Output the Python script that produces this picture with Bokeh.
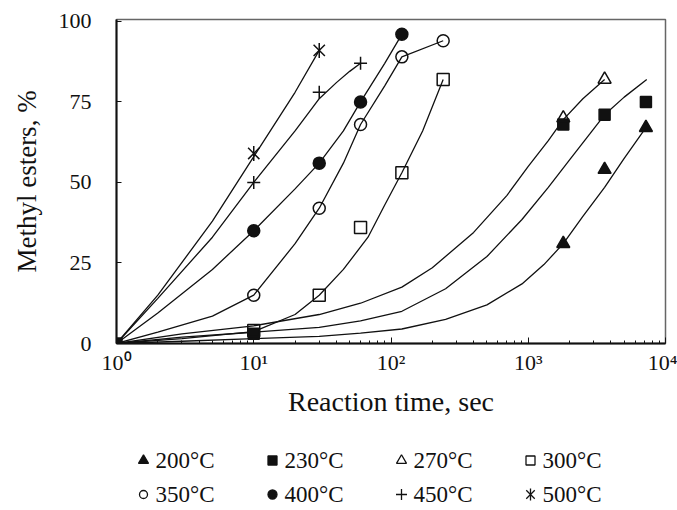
import math
from bokeh.plotting import figure
from bokeh.models import Range1d, CustomJSTickFormatter, FixedTicker
from bokeh.layouts import column
from bokeh.embed import file_html
from bokeh.resources import INLINE

# ---------------- data ----------------
labels = ["200°C", "230°C", "270°C", "300°C", "350°C", "400°C", "450°C", "500°C"]

# measured points: reaction time (s), methyl esters (%)
t200 = [1800, 3600, 7200]
y200 = [31, 54, 67]
t230 = [1, 10, 1800, 3600, 7200]
y230 = [0, 3, 68, 71, 75]
t270 = [1800, 3600]
y270 = [70, 82]
t300 = [10, 30, 60, 120, 240]
y300 = [4, 15, 36, 53, 82]
t350 = [10, 30, 60, 120, 240]
y350 = [15, 42, 68, 89, 94]
t400 = [10, 30, 60, 120]
y400 = [35, 56, 75, 96]
t450 = [10, 30, 60]
y450 = [50, 78, 87]
t500 = [10, 30]
y500 = [59, 91]

# fitted curves
c200_t = [1, 3, 10, 30, 60, 120, 250, 500, 900, 1300, 1800, 2500, 3600, 5000, 7200]
c200_y = [0, 0.7, 1.5, 2.2, 3.2, 4.5, 7.5, 12, 18.5, 24.5, 31, 39.5, 48.5, 57.5, 67]
c230_t = [1, 3, 10, 30, 60, 120, 250, 500, 900, 1400, 2000, 2800, 3600, 5000, 7300]
c230_y = [0, 2, 3.5, 5, 7, 10, 17, 27, 38.5, 48.5, 57, 65, 71, 76.5, 82]
c270_t = [1, 3, 10, 30, 60, 120, 200, 400, 700, 1000, 1400, 1800, 2500, 3600]
c270_y = [0, 3, 5.5, 9, 12.5, 17.5, 23.5, 34.5, 46, 55, 63, 69.5, 76, 82]
c300_t = [1, 3, 10, 20, 30, 45, 68, 90, 120, 170, 240]
c300_y = [0, 1.5, 3.7, 9, 15, 23, 33, 43, 53, 66, 82]
c350_t = [1, 2, 5, 10, 20, 30, 45, 60, 90, 120, 240]
c350_y = [0, 3.5, 8.5, 15, 31, 42, 56, 68, 80, 89, 94]
c400_t = [1, 2, 5, 10, 20, 30, 45, 60, 90, 120]
c400_y = [0, 9.5, 23, 35, 48, 56, 66, 75, 87, 96]
c450_t = [1, 2, 5, 10, 20, 30, 40, 50, 60]
c450_y = [0, 14, 33, 50, 66, 76, 81, 84.5, 87]
c500_t = [1, 2, 5, 10, 20, 30]
c500_y = [0, 15, 38, 58, 78, 91]

x_ticks = [1, 10, 100, 1000, 10000]
y_ticks = [0, 25, 50, 75, 100]

# ---------------- styling ----------------
FONT = "Liberation Serif"
BLACK = "#111111"

# marker specs: list of (marker, size, filled, angle)
marker_specs = [
    [("triangle", 13, True, 0)],
    [("square", 11, True, 0)],
    [("triangle", 13, False, 0)],
    [("square", 12, False, 0)],
    [("circle", 12, False, 0)],
    [("circle", 12, True, 0)],
    [("cross", 13, False, 0)],
    [("x", 16, False, 0), ("dash", 15, False, math.pi / 2)],
]

points = [(t200, y200), (t230, y230), (t270, y270), (t300, y300),
          (t350, y350), (t400, y400), (t450, y450), (t500, y500)]
curves = [(c200_t, c200_y), (c230_t, c230_y), (c270_t, c270_y), (c300_t, c300_y),
          (c350_t, c350_y), (c400_t, c400_y), (c450_t, c450_y), (c500_t, c500_y)]

LEFT, RIGHT = 116, 12

p = figure(width=677, height=430, x_axis_type="log",
           x_range=Range1d(1, 10000), y_range=Range1d(0, 100.6),
           output_backend="svg", toolbar_location=None,
           min_border_left=LEFT, min_border_right=RIGHT,
           min_border_top=19, min_border_bottom=87)
p.background_fill_color = "white"
p.border_fill_color = "white"
p.outline_line_color = "#666666"
p.outline_line_width = 1.5
p.xgrid.visible = False
p.ygrid.visible = False

for (ct, cy) in curves:
    p.line(ct, cy, line_color=BLACK, line_width=1.3)


def draw_markers(fig, xs, ys, specs, lw=1.5):
    for (m, s, filled, ang) in specs:
        fig.scatter(xs, ys, marker=m, size=s, angle=ang,
                    line_color=BLACK, line_width=lw,
                    fill_color=BLACK if filled else None,
                    fill_alpha=1.0 if filled else 0.0)


for (pt, py), specs in zip(points, marker_specs):
    draw_markers(p, pt, py, specs)

# axes
for ax in (p.xaxis[0], p.yaxis[0]):
    ax.axis_line_color = BLACK
    ax.axis_line_width = 2
    ax.major_tick_line_color = BLACK
    ax.major_tick_out = 0
    ax.major_label_text_font = FONT
    ax.major_label_text_color = BLACK
    ax.major_label_text_font_size = "22px"
    ax.axis_label_text_font = FONT
    ax.axis_label_text_font_style = "normal"
    ax.axis_label_text_color = BLACK

minor = [m * d for d in x_ticks[:-1] for m in range(2, 10)]
p.xaxis.ticker = FixedTicker(ticks=x_ticks, minor_ticks=minor)
p.xaxis.formatter = CustomJSTickFormatter(code="""
const s = ['\u2070','\u00b9','\u00b2','\u00b3','\u2074','\u2075'];
return '10' + s[Math.round(Math.log10(tick))];
""")
p.xaxis.major_tick_in = 6
p.xaxis.minor_tick_in = 3
p.xaxis.minor_tick_out = 0
p.xaxis.minor_tick_line_color = BLACK
p.xaxis.major_label_standoff = 6
p.xaxis.axis_label = "Reaction time, sec"
p.xaxis.axis_label_standoff = 8
p.xaxis.axis_label_text_font_size = "28px"

p.yaxis.ticker = FixedTicker(ticks=y_ticks)
p.yaxis.major_tick_in = 5
p.yaxis.minor_tick_in = 0
p.yaxis.minor_tick_out = 0
p.yaxis.major_label_standoff = 25
p.yaxis.axis_label = "Methyl esters, %"
p.yaxis.axis_label_standoff = 14
p.yaxis.axis_label_text_font_size = "27px"

# ---------------- legend (separate panel below, pixel coordinates) ----------------
leg = figure(width=677, height=80, x_range=Range1d(LEFT, 677 - RIGHT), y_range=Range1d(80, 0),
             output_backend="svg", toolbar_location=None,
             min_border_left=LEFT, min_border_right=RIGHT,
             min_border_top=0, min_border_bottom=0, outline_line_color=None)
leg.axis.visible = False
leg.xgrid.visible = False
leg.ygrid.visible = False
leg.background_fill_color = "white"
leg.border_fill_color = "white"

col_x = [143, 272, 401, 530]
row_y = [30, 64]
leg_specs = [
    [("triangle", 10, True, 0)],
    [("square", 9, True, 0)],
    [("triangle", 10, False, 0)],
    [("square", 9, False, 0)],
    [("circle", 8, False, 0)],
    [("circle", 9, True, 0)],
    [("cross", 11, False, 0)],
    [("x", 12, False, 0), ("dash", 12, False, math.pi / 2)],
]
for i, lab in enumerate(labels):
    cx = col_x[i % 4]
    cy = row_y[i // 4]
    draw_markers(leg, [cx], [cy], leg_specs[i], lw=1.3)
    leg.text([cx + 12], [cy], text=[lab], text_font=FONT,
             text_font_size="23px", text_color=BLACK,
             text_baseline="middle", text_align="left")

layout = column(p, leg, spacing=0)
open("out.html", "w").write(file_html(layout, INLINE))
